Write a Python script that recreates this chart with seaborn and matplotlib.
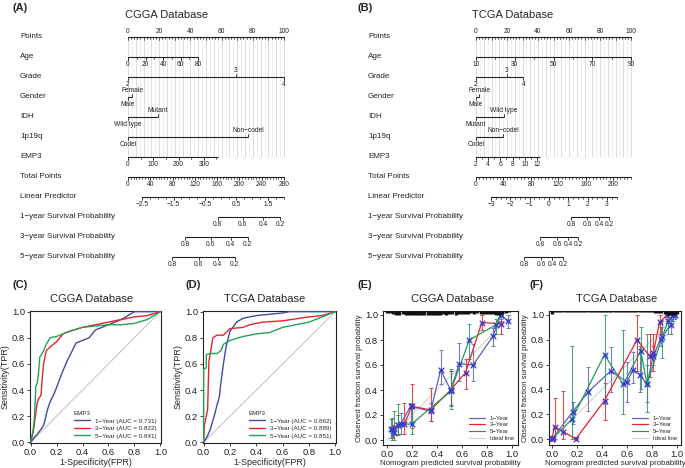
import numpy as np
import pandas as pd
import seaborn as sns
import matplotlib.pyplot as plt
from matplotlib.lines import Line2D

# ---------------- (A) CGGA nomogram ----------------
cgga_age_ticks = [0, 10, 20, 30, 40, 50, 60, 70, 80]
cgga_age_labels = [0, 20, 40, 60, 80]
cgga_age_scale = ([0, 80], [0, 45])
cgga_grade_levels = ["2", "3", "4"]
cgga_grade_pts = [0, 69, 100]
cgga_gender_levels = ["Male", "Female"]
cgga_gender_pts = [0, 2.6]
cgga_idh_levels = ["Wild type", "Mutant"]
cgga_idh_pts = [0, 19]
cgga_codel_levels = ["Codel", "Non\u2212codel"]
cgga_codel_pts = [0, 77]
cgga_emp3_ticks = [0, 50, 100, 150, 200, 250, 300, 350]
cgga_emp3_labels = [0, 100, 200, 300]
cgga_emp3_scale = ([0, 356], [0, 57.7])
cgga_total_ticks = list(range(0, 281, 5))
cgga_total_labels = [0, 40, 80, 120, 160, 200, 240, 280]
cgga_total_scale = ([0, 280], [0, 100])
cgga_lp_ticks = list(np.arange(-2.5, 2.01, 0.25))
cgga_lp_labels = [-2.5, -1.5, -0.5, 0.5, 1.5]
cgga_lp_scale = ([-2.5, 2.0], [9.0, 99.8])
surv_labels = [0.8, 0.6, 0.4, 0.2]
cgga_surv1_pts = [57.4, 73.5, 86.5, 97.4]
cgga_surv3_pts = [36.8, 52.9, 65.8, 76.8]
cgga_surv5_pts = [28.4, 45.2, 57.4, 68.4]

# ---------------- (B) TCGA nomogram ----------------
tcga_age_ticks = [10, 20, 30, 40, 50, 60, 70, 80, 90]
tcga_age_labels = [10, 30, 50, 70, 90]
tcga_age_scale = ([10, 90], [0, 100])
tcga_grade_levels = ["2", "3", "4"]
tcga_grade_pts = [0, 20, 30.5]
tcga_gender_levels = ["Male", "Female"]
tcga_gender_pts = [0, 2.0]
tcga_idh_levels = ["Mutant", "Wild type"]
tcga_idh_pts = [0, 18]
tcga_codel_levels = ["Codel", "Non\u2212codel"]
tcga_codel_pts = [0, 17.4]
tcga_emp3_ticks = [2, 3, 4, 5, 6, 7, 8, 9, 10, 11, 12]
tcga_emp3_labels = [2, 4, 6, 8, 10, 12]
tcga_emp3_scale = ([2, 12.5], [0, 41.3])
tcga_total_ticks = list(range(0, 226, 5))
tcga_total_labels = [0, 40, 80, 120, 160, 200]
tcga_total_scale = ([0, 225.7], [0, 100])
tcga_lp_ticks = list(np.arange(-3, 3.51, 0.25))
tcga_lp_labels = [-3, -2, -1, 0, 1, 2, 3]
tcga_lp_scale = ([-3, 3.5], [9.7, 90.7])
tcga_surv1_pts = [61.3, 71.6, 79.4, 85.8]
tcga_surv3_pts = [41.3, 52.3, 59.4, 65.8]
tcga_surv5_pts = [31.0, 41.9, 49.0, 56.1]

# ---------------- (C)/(D) ROC curves ----------------
years = ["1\u2212Year", "3\u2212Year", "5\u2212Year"]
c_auc = [0.731, 0.822, 0.841]
d_auc = [0.862, 0.889, 0.851]
c_fpr_1 = [0, 0.03, 0.05, 0.08, 0.1, 0.13, 0.15, 0.18, 0.2, 0.23, 0.25, 0.28, 0.3, 0.33, 0.35, 0.4, 0.45, 0.5, 0.55, 0.6, 0.7, 0.75, 0.8, 1.0]
c_tpr_1 = [0, 0.04, 0.06, 0.1, 0.13, 0.25, 0.31, 0.37, 0.42, 0.5, 0.55, 0.62, 0.66, 0.72, 0.76, 0.78, 0.8, 0.86, 0.88, 0.9, 0.94, 0.97, 1.0, 1.0]
c_fpr_3 = [0, 0.02, 0.03, 0.05, 0.06, 0.08, 0.09, 0.1, 0.12, 0.15, 0.2, 0.25, 0.3, 0.4, 0.5, 0.6, 0.7, 0.8, 0.9, 1.0]
c_tpr_3 = [0, 0.08, 0.15, 0.3, 0.33, 0.36, 0.5, 0.6, 0.7, 0.73, 0.77, 0.83, 0.85, 0.88, 0.9, 0.92, 0.94, 0.96, 0.97, 1.0]
c_fpr_5 = [0, 0.02, 0.03, 0.04, 0.05, 0.06, 0.07, 0.1, 0.12, 0.15, 0.2, 0.25, 0.3, 0.4, 0.5, 0.6, 0.7, 0.8, 0.9, 1.0]
c_tpr_5 = [0, 0.1, 0.2, 0.43, 0.45, 0.52, 0.65, 0.7, 0.75, 0.8, 0.81, 0.83, 0.85, 0.88, 0.89, 0.9, 0.9, 0.91, 0.94, 1.0]
d_fpr_1 = [0, 0.03, 0.05, 0.08, 0.1, 0.12, 0.13, 0.15, 0.17, 0.2, 0.25, 0.3, 0.4, 0.5, 0.6, 0.65, 1.0]
d_tpr_1 = [0, 0.05, 0.1, 0.2, 0.28, 0.35, 0.45, 0.6, 0.73, 0.85, 0.92, 0.95, 0.97, 0.98, 0.99, 1.0, 1.0]
d_fpr_3 = [0, 0.005, 0.02, 0.03, 0.04, 0.05, 0.07, 0.1, 0.15, 0.2, 0.3, 0.35, 0.45, 0.6, 0.8, 0.9, 1.0]
d_tpr_3 = [0, 0.13, 0.2, 0.25, 0.62, 0.68, 0.8, 0.82, 0.82, 0.87, 0.88, 0.9, 0.92, 0.93, 0.96, 0.97, 1.0]
d_fpr_5 = [0, 0.0, 0.02, 0.02, 0.05, 0.1, 0.13, 0.15, 0.2, 0.3, 0.4, 0.5, 0.6, 0.7, 0.8, 0.9, 1.0]
d_tpr_5 = [0, 0.56, 0.57, 0.67, 0.68, 0.68, 0.7, 0.75, 0.78, 0.81, 0.83, 0.84, 0.88, 0.9, 0.92, 0.96, 1.0]

# ---------------- (E)/(F) calibration ----------------
cal_years = ["1\u2212Year", "3\u2212Year", "5\u2212Year"]
e_pred_1 = [0.04, 0.11, 0.19, 0.35, 0.43, 0.51, 0.58, 0.69, 0.85, 0.91, 0.97]
e_obs_1 = [0.09, 0.13, 0.27, 0.23, 0.56, 0.40, 0.61, 0.60, 0.83, 1.0, 0.95]
e_lo_1 = [0.0, 0.05, 0.13, 0.15, 0.45, 0.27, 0.47, 0.47, 0.75, 0.95, 0.9]
e_hi_1 = [0.18, 0.22, 0.3, 0.3, 0.72, 0.55, 0.78, 0.77, 0.9, 1.0, 1.0]
e_pred_3 = [0.05, 0.09, 0.14, 0.20, 0.35, 0.51, 0.63, 0.76, 0.91]
e_obs_3 = [0.07, 0.12, 0.13, 0.27, 0.24, 0.40, 0.54, 0.94, 0.93]
e_lo_3 = [0.02, 0.04, 0.05, 0.1, 0.15, 0.28, 0.41, 0.88, 0.85]
e_hi_3 = [0.12, 0.2, 0.3, 0.45, 0.42, 0.55, 0.65, 1.0, 1.0]
e_pred_5 = [0.03, 0.06, 0.09, 0.20, 0.51, 0.66, 0.87, 0.91]
e_obs_5 = [0.09, 0.06, 0.12, 0.13, 0.39, 0.80, 0.92, 1.0]
e_lo_5 = [0.02, 0.0, 0.05, 0.05, 0.25, 0.65, 0.85, 0.97]
e_hi_5 = [0.17, 0.23, 0.29, 0.27, 0.57, 0.93, 0.97, 1.0]
f_pred_1 = [0.005, 0.165, 0.29, 0.47, 0.60, 0.65, 0.70, 0.76, 0.81, 0.87, 0.95, 0.98]
f_obs_1 = [0.005, 0.22, 0.38, 0.55, 0.46, 0.56, 0.52, 0.44, 0.67, 0.81, 0.92, 1.0]
f_lo_1 = [0.0, 0.12, 0.23, 0.38, 0.3, 0.45, 0.38, 0.3, 0.6, 0.75, 0.85, 0.97]
f_hi_1 = [0.02, 0.3, 0.58, 0.74, 0.62, 0.7, 0.75, 0.6, 0.75, 0.9, 1.0, 1.0]
f_pred_3 = [0.0, 0.02, 0.09, 0.19, 0.42, 0.68, 0.78, 0.81, 0.86, 0.92, 0.97]
f_obs_3 = [0.0, 0.10, 0.06, 0.0, 0.31, 0.80, 0.67, 0.69, 0.94, 1.0, 1.0]
f_lo_3 = [0.0, 0.0, 0.0, 0.0, 0.15, 0.55, 0.5, 0.55, 0.85, 0.95, 0.98]
f_hi_3 = [0.02, 0.33, 0.39, 0.02, 0.45, 1.0, 0.85, 0.85, 1.0, 1.0, 1.0]
f_pred_5 = [0.0, 0.16, 0.42, 0.57, 0.71, 0.76, 0.88, 0.93, 0.97]
f_obs_5 = [0.0, 0.16, 0.68, 0.44, 0.71, 0.44, 0.82, 0.95, 1.0]
f_lo_5 = [0.0, 0.0, 0.28, 0.2, 0.4, 0.22, 0.65, 0.85, 0.95]
f_hi_5 = [0.02, 0.75, 1.0, 0.88, 0.9, 0.85, 0.95, 1.0, 1.0]
# distribution of predicted probabilities (rug along the top), 0.025 bins
e_rug_start = 0.0
e_rug_h = [0.012, 0.018, 0.022, 0.03, 0.028, 0.025, 0.03, 0.033, 0.028, 0.03, 0.033, 0.03, 0.035,
           0.03, 0.028, 0.033, 0.03, 0.028, 0.025, 0.03, 0.026, 0.024, 0.028, 0.022, 0.025, 0.026,
           0.02, 0.018, 0.022, 0.018, 0.022, 0.02, 0.024, 0.022, 0.026, 0.028, 0.03, 0.025, 0.015, 0.01]
f_rug_start = 0.0
f_rug_h = [0.025, 0.006, 0.006, 0.006, 0.006, 0.006, 0.006, 0.006, 0.006, 0.006, 0.006, 0.006, 0.006,
           0.006, 0.006, 0.006, 0.006, 0.006, 0.006, 0.006, 0.006, 0.006, 0.006, 0.006, 0.006, 0.008,
           0.006, 0.008, 0.008, 0.01, 0.01, 0.012, 0.012, 0.015, 0.015, 0.02, 0.025, 0.03, 0.032, 0.03, 0.025]

sns.set_theme(style="ticks")
plt.rcParams["font.family"] = ["Liberation Sans", "DejaVu Sans"]
plt.rcParams["axes.unicode_minus"] = True

W, H = 685, 468
fig = plt.figure(figsize=(W / 100, H / 100), dpi=100)


def px_axes(x0, y0, x1, y1):
    return fig.add_axes([x0 / W, 1 - y1 / H, (x1 - x0) / W, (y1 - y0) / H])


def ftext(x, y, s, **kw):
    fig.text(x / W, 1 - y / H, s, **kw)


def num(v):
    s = f"{v:g}"
    return s.replace("-", "\u2212")


def cont_row(name, ticks, labels, scale):
    return dict(name=name, line=(scale[1][0], scale[1][-1]),
                ticks=np.interp(ticks, *scale), labpos=np.interp(labels, *scale),
                labtxt=[num(v) for v in labels], sides=["below"] * len(labels))


def cat_row(name, levels, pts):
    sides = ["below" if i % 2 == 0 else "above" for i in range(len(levels))]
    return dict(name=name, line=(min(pts), max(pts)), ticks=[], labpos=pts,
                labtxt=levels, sides=sides)


def surv_row(name, pts):
    return dict(name=name, line=(min(pts), max(pts)), ticks=[], labpos=pts,
                labtxt=[num(v) for v in surv_labels], sides=["below"] * len(pts))


def nomogram(ax, rows, px_zero, px_per_pt, x0, x1, label_px):
    ax.set_xlim((x0 - px_zero) / px_per_pt, (x1 - px_zero) / px_per_pt)
    ax.set_ylim(11.9, -0.6)
    ax.axis("off")
    for g in np.arange(0, 101, 2.5):
        col = "#d6d6d6" if g % 5 == 0 else "#efefef"
        ax.plot([g, g], [0, 6], color=col, lw=0.6, zorder=0)
    lab_x = (label_px - px_zero) / px_per_pt
    ink = "#222222"
    # Points axis: labels above, ticks hanging below the line
    ax.text(lab_x, 0, "Points", ha="left", va="center", fontsize=5.8, color=ink)
    ax.plot([0, 100], [0, 0], color=ink, lw=0.8)
    for p in np.arange(0, 101, 2):
        ln = 0.17 if p % 10 == 0 else 0.09
        ax.plot([p, p], [0, ln], color=ink, lw=0.5)
    for p in range(0, 101, 20):
        ax.text(p, -0.12, str(p), ha="center", va="bottom", fontsize=4.8, color=ink)
    for i, r in enumerate(rows, start=1):
        ax.text(lab_x, i, r["name"], ha="left", va="center", fontsize=5.8, color=ink)
        ax.plot(list(r["line"]), [i, i], color=ink, lw=0.8, solid_capstyle="butt")
        for p in r["ticks"]:
            ax.plot([p, p], [i, i + 0.1], color=ink, lw=0.5)
        for p, t, s in zip(r["labpos"], r["labtxt"], r["sides"]):
            if s == "below":
                ax.plot([p, p], [i, i + 0.16], color=ink, lw=0.6)
                ax.text(p, i + 0.18, t, ha="center", va="top", fontsize=4.8, color=ink)
            else:
                ax.plot([p, p], [i, i - 0.16], color=ink, lw=0.6)
                ax.text(p, i - 0.16, t, ha="center", va="bottom", fontsize=4.8, color=ink)


cgga_rows = [
    cont_row("Age", cgga_age_ticks, cgga_age_labels, cgga_age_scale),
    cat_row("Grade", cgga_grade_levels, cgga_grade_pts),
    cat_row("Gender", cgga_gender_levels, cgga_gender_pts),
    cat_row("IDH", cgga_idh_levels, cgga_idh_pts),
    cat_row("1p19q", cgga_codel_levels, cgga_codel_pts),
    cont_row("EMP3", cgga_emp3_ticks, cgga_emp3_labels, cgga_emp3_scale),
    cont_row("Total Points", cgga_total_ticks, cgga_total_labels, cgga_total_scale),
    cont_row("Linear Predictor", cgga_lp_ticks, cgga_lp_labels, cgga_lp_scale),
    surv_row("1\u2212year Survival Probability", cgga_surv1_pts),
    surv_row("3\u2212year Survival Probability", cgga_surv3_pts),
    surv_row("5\u2212year Survival Probability", cgga_surv5_pts),
]
tcga_rows = [
    cont_row("Age", tcga_age_ticks, tcga_age_labels, tcga_age_scale),
    cat_row("Grade", tcga_grade_levels, tcga_grade_pts),
    cat_row("Gender", tcga_gender_levels, tcga_gender_pts),
    cat_row("IDH", tcga_idh_levels, tcga_idh_pts),
    cat_row("1p19q", tcga_codel_levels, tcga_codel_pts),
    cont_row("EMP3", tcga_emp3_ticks, tcga_emp3_labels, tcga_emp3_scale),
    cont_row("Total Points", tcga_total_ticks, tcga_total_labels, tcga_total_scale),
    cont_row("Linear Predictor", tcga_lp_ticks, tcga_lp_labels, tcga_lp_scale),
    surv_row("1\u2212year Survival Probability", tcga_surv1_pts),
    surv_row("3\u2212year Survival Probability", tcga_surv3_pts),
    surv_row("5\u2212year Survival Probability", tcga_surv5_pts),
]

ax_a = px_axes(0, 25, 340, 275)
nomogram(ax_a, cgga_rows, 128, 1.56, 0, 340, 20)
ax_b = px_axes(340, 25, 685, 275)
nomogram(ax_b, tcga_rows, 476, 1.55, 340, 685, 368)

# panel letters and titles
for x, y, s in [(12, 8, "(A)"), (357, 8, "(B)"), (12, 285, "(C)"), (185, 285, "(D)"),
                (357, 285, "(E)"), (530, 285, "(F)")]:
    ftext(x, y, s, fontsize=8, fontweight="bold", ha="left", va="center")
for x, y, s in [(167, 15, "CGGA Database"), (513, 15, "TCGA Database"), (92, 299, "CGGA Database"),
                (265, 299, "TCGA Database"), (453, 299, "CGGA Database"), (617, 299, "TCGA Database")]:
    ftext(x, y, s, fontsize=8, ha="center", va="center")

roc_colors = ["#3f4c9e", "#e8232a", "#23a05a"]
cal_colors = ["#5a66b5", "#e8232a", "#24995a"]


def style_axes(ax):
    for sp in ax.spines.values():
        sp.set_visible(True)
        sp.set_color("#222222")
        sp.set_linewidth(0.8)
    ax.tick_params(direction="out", length=2.5, width=0.6, labelsize=6.8, pad=1.0, colors="#222222")
    ax.set_xticks([0, 0.2, 0.4, 0.6, 0.8, 1.0])
    ax.set_yticks([0, 0.2, 0.4, 0.6, 0.8, 1.0])
    ax.xaxis.set_major_formatter(lambda v, p: f"{v:.1f}")
    ax.yaxis.set_major_formatter(lambda v, p: f"{v:.1f}")


def roc_panel(ax, curves, aucs):
    frames = [pd.DataFrame({"fpr": f, "tpr": t, "curve": y}) for (f, t), y in zip(curves, years)]
    df = pd.concat(frames, ignore_index=True)
    ax.plot([0, 1], [0, 1], color="#c8c8c8", lw=0.8, zorder=1)
    sns.lineplot(data=df, x="fpr", y="tpr", hue="curve", palette=roc_colors, sort=False,
                 estimator=None, lw=1.0, ax=ax, legend=False, zorder=3)
    ax.set_xlim(-0.005, 1.005)
    ax.set_ylim(-0.005, 1.005)
    style_axes(ax)
    ax.set_xlabel("1-Specificity(FPR)", fontsize=6.5, labelpad=1.0)
    ax.set_ylabel("Sensitivity(TPR)", fontsize=6.5, labelpad=1.5)
    handles = [Line2D([], [], color=c, lw=1.0) for c in roc_colors]
    labels = [f"{y} (AUC = {a:.3f})" for y, a in zip(years, aucs)]
    ax.legend(handles, labels, title="EMP3", loc="lower right", frameon=False,
              fontsize=4.5, title_fontsize=4.5, handlelength=2.6, labelspacing=0.35,
              borderaxespad=0.3, alignment="left")


ax_c = px_axes(30, 311, 161, 443)
roc_panel(ax_c, [(c_fpr_1, c_tpr_1), (c_fpr_3, c_tpr_3), (c_fpr_5, c_tpr_5)], c_auc)
ax_d = px_axes(203, 311, 336, 443)
roc_panel(ax_d, [(d_fpr_1, d_tpr_1), (d_fpr_3, d_tpr_3), (d_fpr_5, d_tpr_5)], d_auc)


def cal_panel(ax, series, rug_start, rug_h, xlim, ylim):
    ax.plot([0, 1], [0, 1], color="#d2d2d2", lw=0.8, zorder=1)
    frames = []
    for (pred, obs, lo, hi), y, col in zip(series, cal_years, cal_colors):
        pred, obs, lo, hi = map(np.asarray, (pred, obs, lo, hi))
        ax.errorbar(pred, obs, yerr=[np.clip(obs - lo, 0, None), np.clip(hi - obs, 0, None)],
                    fmt="none", ecolor=col, elinewidth=0.8, capsize=1.6, capthick=0.7,
                    alpha=0.85, zorder=2)
        frames.append(pd.DataFrame({"pred": pred, "obs": obs, "curve": y}))
    df = pd.concat(frames, ignore_index=True)
    sns.lineplot(data=df, x="pred", y="obs", hue="curve", palette=cal_colors, sort=False,
                 estimator=None, lw=0.9, marker="o", markersize=2.8, markeredgewidth=0,
                 ax=ax, legend=False, zorder=3)
    sns.scatterplot(data=df, x="pred", y="obs", marker="x", color="#3b3bd6", s=16,
                    linewidth=0.9, ax=ax, legend=False, zorder=4)
    rx = rug_start + 0.025 * np.arange(len(rug_h))
    ax.vlines(rx, ylim[1] - np.asarray(rug_h), ylim[1], color="#111111", lw=2.4, zorder=5)
    ax.set_xlim(*xlim)
    ax.set_ylim(*ylim)
    style_axes(ax)
    ax.set_xlabel("Nomogram predicted survival probability", fontsize=5.7, labelpad=1.0)
    ax.set_ylabel("Observed fraction survival probability", fontsize=5.6, labelpad=1.5)
    handles = [Line2D([], [], color=c, lw=0.9) for c in cal_colors]
    handles.append(Line2D([], [], color="#d2d2d2", lw=0.9))
    ax.legend(handles, cal_years + ["Ideal line"], loc="lower right", frameon=False,
              fontsize=4.3, handlelength=2.6, labelspacing=0.25, borderaxespad=0.3)


ax_e = px_axes(383, 311, 518, 445)
cal_panel(ax_e, [(e_pred_1, e_obs_1, e_lo_1, e_hi_1), (e_pred_3, e_obs_3, e_lo_3, e_hi_3),
                 (e_pred_5, e_obs_5, e_lo_5, e_hi_5)], e_rug_start, e_rug_h,
          (-0.032, 1.05), (-0.04, 1.032))
ax_f = px_axes(549, 311, 681, 445)
cal_panel(ax_f, [(f_pred_1, f_obs_1, f_lo_1, f_hi_1), (f_pred_3, f_obs_3, f_lo_3, f_hi_3),
                 (f_pred_5, f_obs_5, f_lo_5, f_hi_5)], f_rug_start, f_rug_h,
          (-0.024, 1.032), (-0.048, 1.032))

fig.savefig("out.png", dpi=100)
